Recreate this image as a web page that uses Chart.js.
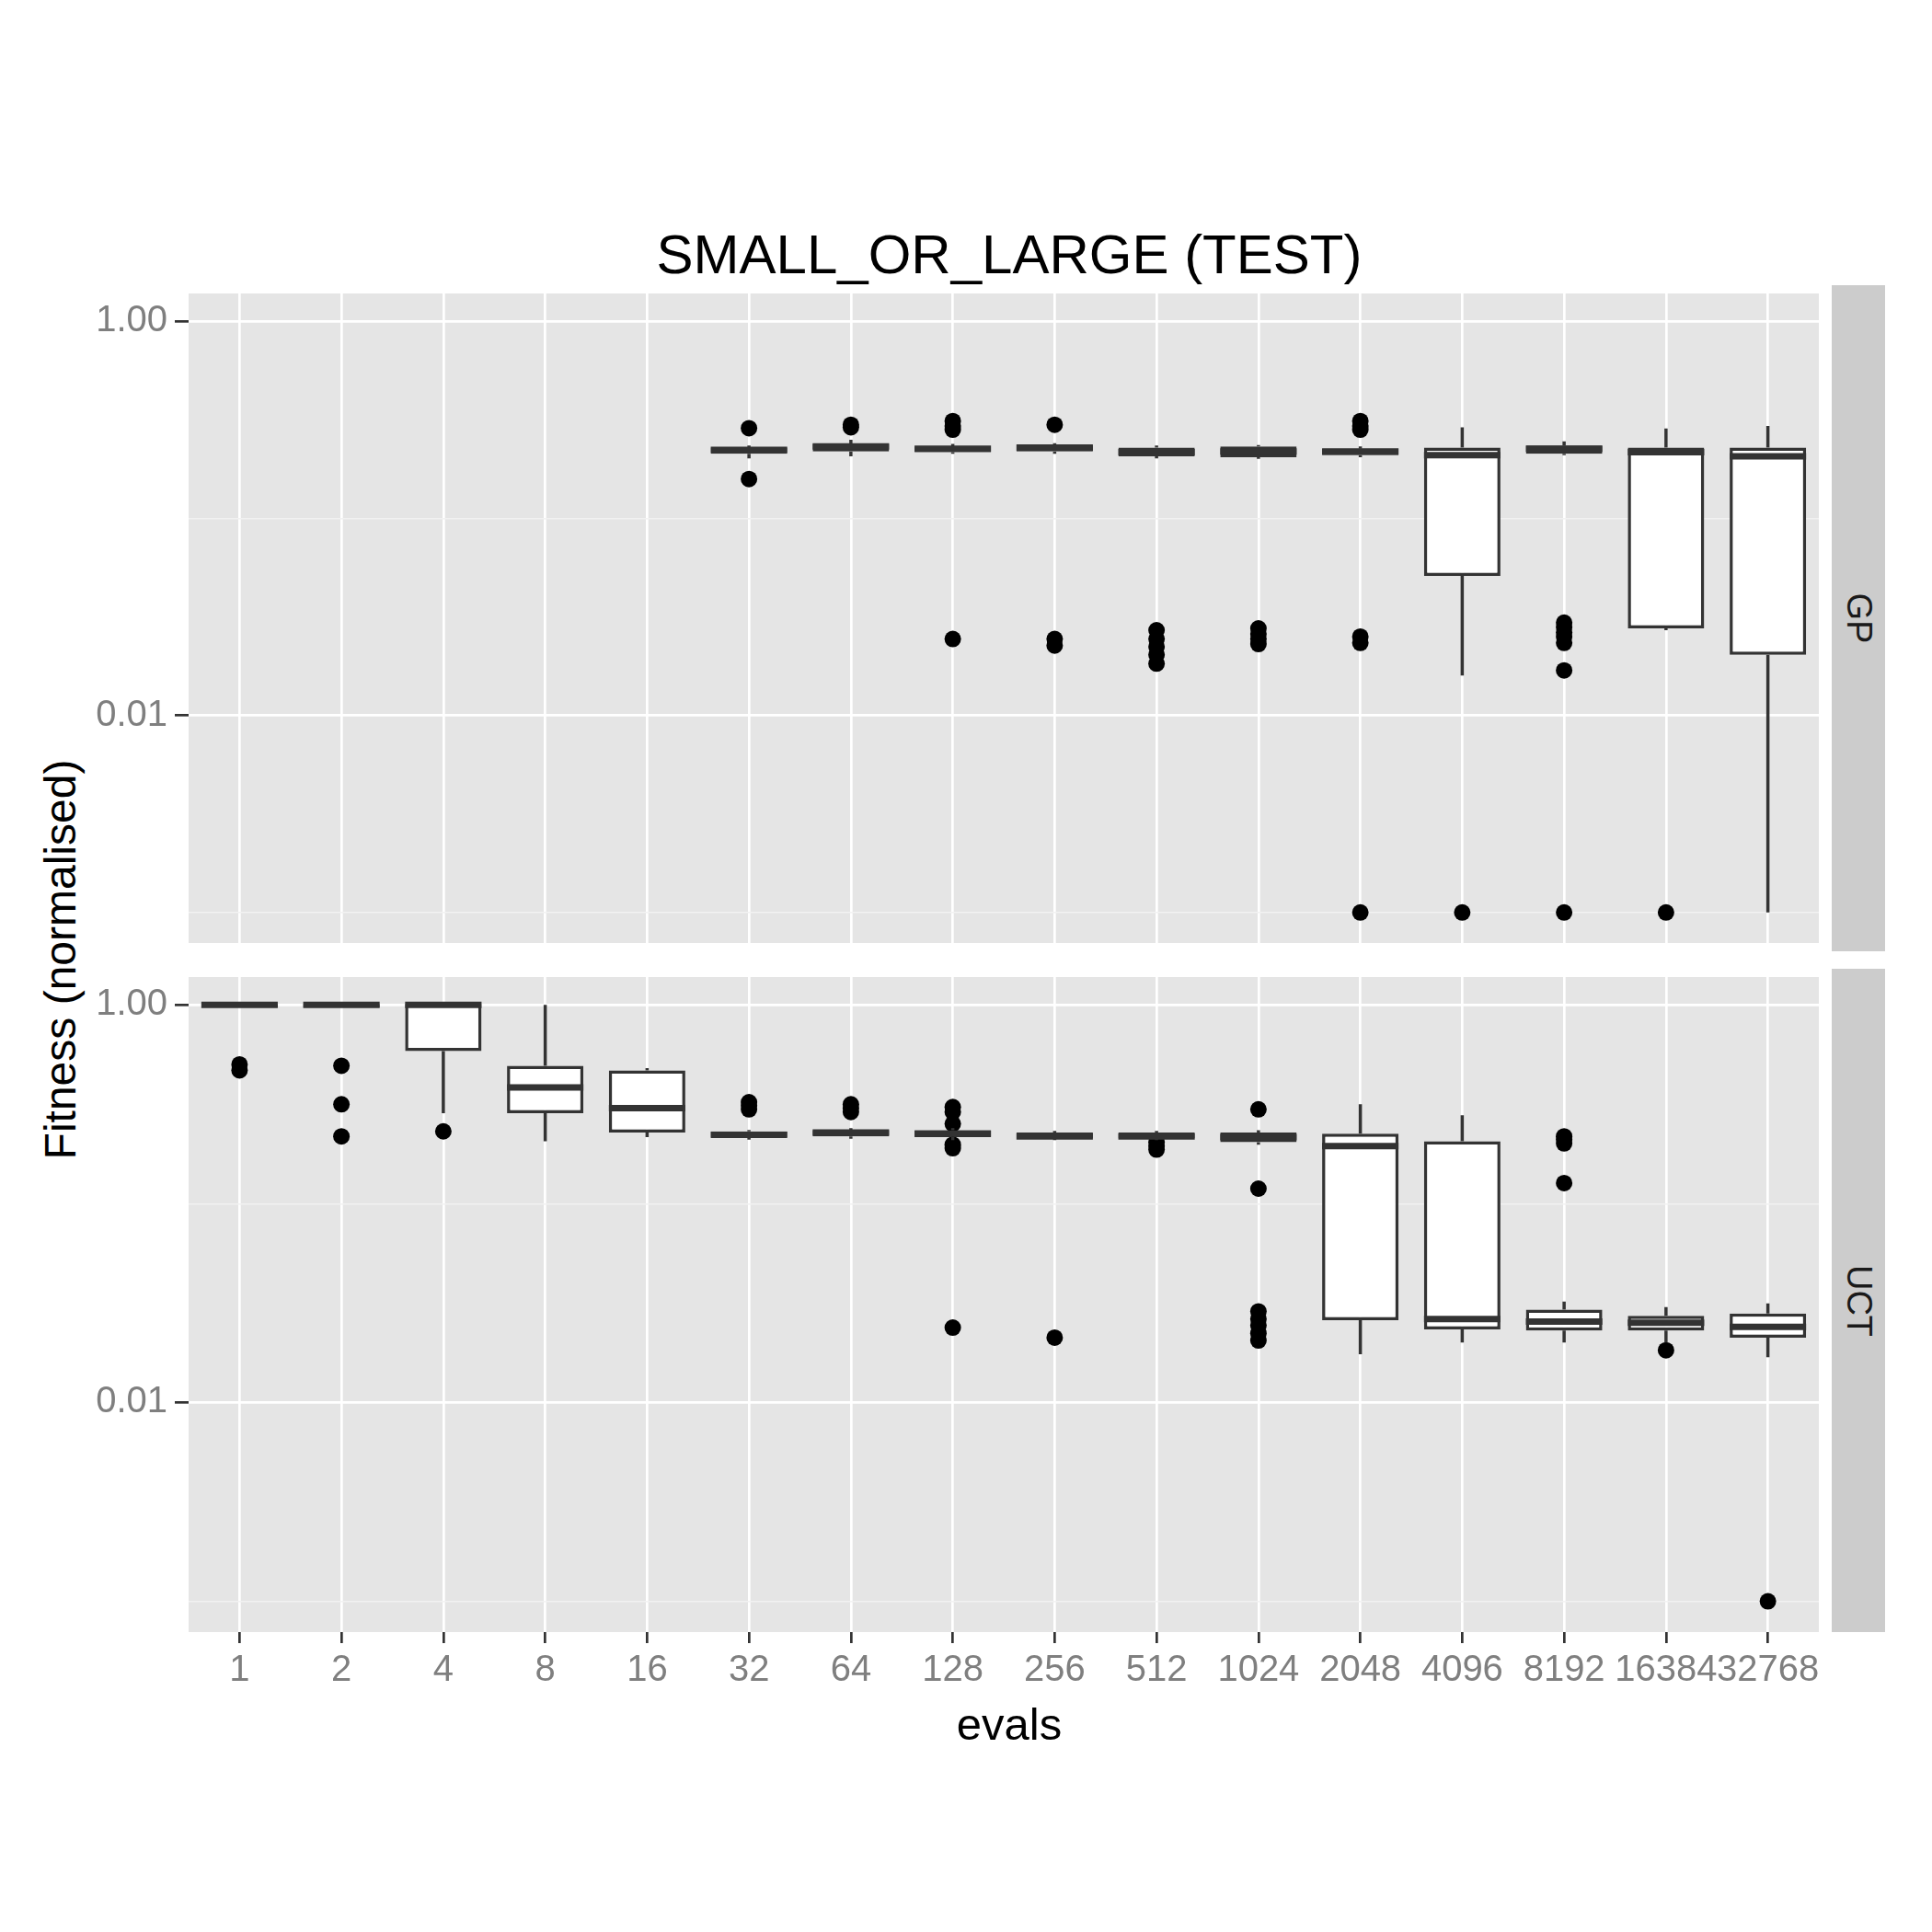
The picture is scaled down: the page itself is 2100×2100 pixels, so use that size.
<!DOCTYPE html>
<html>
<head>
<meta charset="utf-8">
<script src="https://cdn.jsdelivr.net/npm/chart.js@4"></script>
<style>
  body { margin: 0; background: #fff; font-family: "Liberation Sans", Arial, sans-serif; }
  #wrap { position: relative; width: 2100px; height: 2100px; }
  canvas { position: absolute; left: 0; }
  .txt { position: absolute; white-space: nowrap; color: #000; }
  .strip { position: absolute; left: 1991px; width: 58px; background: #ccc; }
  .strip span { position: absolute; left: 50%; top: 50%; transform: translate(-50%, -50%) rotate(90deg); font-size: 38px; color: #1a1a1a; }
</style>
</head>
<body>
<div id="wrap">
  <div class="txt" style="left:1097px;top:276px;transform:translate(-50%,-50%);font-size:60px;">SMALL_OR_LARGE (TEST)</div>
  <div class="txt" style="left:65px;top:1043px;transform:translate(-50%,-50%) rotate(-90deg);font-size:48px;">Fitness (normalised)</div>
  <div class="txt" style="left:1097px;top:1874px;transform:translate(-50%,-50%);font-size:49px;">evals</div>
  <div class="strip" style="top:310px;height:724px;"><span>GP</span></div>
  <div class="strip" style="top:1053px;height:721px;"><span>UCT</span></div>
  <canvas id="gp" width="2100" height="724" style="top:310px;width:2100px;height:724px;"></canvas>
  <canvas id="uct" width="2100" height="801" style="top:1053px;width:2100px;height:801px;"></canvas>
</div>
<script>
const evals = ['1','2','4','8','16','32','64','128','256','512','1024','2048','4096','8192','16384','32768'];
const yTicks = [0.001, 0.01, 0.1, 1];
const yLabels = { 1: '1.00', 0.01: '0.01' };

// GP: [whiskerLow, q1, median, q3, whiskerHigh]
const gpStats = [
  null, null, null, null, null,
  [0.201, 0.212, 0.222, 0.228, 0.234],
  [0.206, 0.218, 0.231, 0.238, 0.250],
  [0.212, 0.216, 0.225, 0.231, 0.238],
  [0.212, 0.218, 0.228, 0.234, 0.240],
  [0.201, 0.206, 0.216, 0.228, 0.234],
  [0.200, 0.204, 0.218, 0.231, 0.235],
  [0.204, 0.209, 0.218, 0.225, 0.231],
  [0.0159, 0.051, 0.209, 0.228, 0.289],
  [0.209, 0.212, 0.225, 0.234, 0.245],
  [0.027, 0.0276, 0.216, 0.228, 0.285],
  [0.001, 0.0203, 0.206, 0.228, 0.294]
];
const gpOutliers = [
  [], [], [], [], [],
  [0.286, 0.158],
  [0.298, 0.289],
  [0.311, 0.294, 0.281, 0.0244],
  [0.298, 0.0244, 0.0226],
  [0.027, 0.0244, 0.0223, 0.0203, 0.0183],
  [0.0276, 0.0259, 0.0244, 0.0230],
  [0.311, 0.294, 0.281, 0.0251, 0.0233, 0.001],
  [0.001],
  [0.0295, 0.0280, 0.0263, 0.0251, 0.0233, 0.0169, 0.001],
  [0.001],
  []
];

const uctStats = [
  [0.972, 0.972, 1.0, 1.01, 1.01],
  [0.972, 0.972, 1.0, 1.01, 1.01],
  [0.285, 0.586, 1.0, 1.01, 1.01],
  [0.206, 0.285, 0.384, 0.494, 1.0],
  [0.216, 0.228, 0.302, 0.468, 0.48],
  [0.210, 0.216, 0.222, 0.231, 0.235],
  [0.212, 0.218, 0.228, 0.234, 0.240],
  [0.209, 0.216, 0.225, 0.234, 0.240],
  [0.209, 0.213, 0.218, 0.228, 0.232],
  [0.209, 0.213, 0.218, 0.228, 0.232],
  [0.198, 0.204, 0.216, 0.228, 0.234],
  [0.0175, 0.0259, 0.195, 0.225, 0.316],
  [0.0200, 0.0233, 0.0263, 0.206, 0.278],
  [0.0200, 0.0230, 0.0255, 0.0293, 0.0322],
  [0.0200, 0.0230, 0.0252, 0.0273, 0.0302],
  [0.0169, 0.0212, 0.0240, 0.0280, 0.0315]
];
const uctOutliers = [
  [0.502, 0.468],
  [0.494, 0.316, 0.218],
  [0.231],
  [],
  [],
  [0.324, 0.311, 0.298],
  [0.316, 0.302, 0.289],
  [0.306, 0.289, 0.252, 0.198, 0.190, 0.0238],
  [0.0212],
  [0.204, 0.195, 0.187],
  [0.298, 0.119, 0.0287, 0.0263, 0.0244, 0.0223, 0.0205],
  [],
  [],
  [0.218, 0.210, 0.201, 0.127],
  [0.0183],
  [0.001]
];

const boxPlugin = {
  id: 'boxes',
  beforeDraw(chart) {
    const a = chart.chartArea, c = chart.ctx;
    c.save();
    c.fillStyle = '#e5e5e5';
    c.fillRect(a.left, a.top, a.right - a.left, a.bottom - a.top);
    c.restore();
  },
  afterDatasetsDraw(chart) {
    const stats = chart.options.plugins.boxes.stats;
    const xs = chart.scales.x, ys = chart.scales.y, c = chart.ctx;
    const half = xs.width / evals.length * 0.375;
    c.save();
    c.strokeStyle = '#333';
    stats.forEach((s, i) => {
      if (!s) return;
      const x = xs.getPixelForValue(i);
      const p = s.map(v => ys.getPixelForValue(v));
      c.lineWidth = 3.5;
      c.beginPath();
      c.moveTo(x, p[0]); c.lineTo(x, p[1]);
      c.moveTo(x, p[3]); c.lineTo(x, p[4]);
      c.stroke();
      c.lineWidth = 7;
      c.beginPath();
      c.moveTo(x - half, p[2]); c.lineTo(x + half, p[2]);
      c.stroke();
    });
    c.restore();
  }
};

function makeChart(id, stats, outliers, showX) {
  const pts = [];
  outliers.forEach((list, i) => list.forEach(v => pts.push({ x: evals[i], y: v })));
  return new Chart(document.getElementById(id), {
    data: {
      labels: evals,
      datasets: [
        {
          type: 'bar',
          data: stats.map(s => s ? [s[1], s[3]] : null),
          backgroundColor: '#ffffff',
          borderColor: '#333',
          borderWidth: 3.5,
          borderSkipped: false,
          barPercentage: 0.75,
          categoryPercentage: 1,
          order: 2
        },
        {
          type: 'line',
          data: pts,
          showLine: false,
          pointRadius: 9,
          pointBackgroundColor: '#000',
          pointBorderWidth: 0,
          order: 1
        }
      ]
    },
    options: {
      responsive: false,
      animation: false,
      devicePixelRatio: 1,
      layout: { padding: { left: 0, right: 123, top: 0, bottom: 0 } },
      plugins: { legend: { display: false }, tooltip: { enabled: false }, boxes: { stats } },
      scales: {
        x: {
          type: 'category',
          offset: true,
          border: { display: false },
          grid: { color: '#fff', lineWidth: 2.7, offset: false, tickColor: '#333', tickLength: showX ? 12 : 0, drawTicks: showX },
          ticks: { display: showX, color: '#7f7f7f', font: { size: 40, family: 'Liberation Sans' }, padding: 6, maxRotation: 0, autoSkip: false },
          afterFit(s) { s.height = showX ? 80 : 0; s.paddingLeft = 0; s.paddingRight = 0; }
        },
        y: {
          type: 'logarithmic',
          min: 0.0007,
          max: 1.38,
          border: { display: false },
          afterBuildTicks(s) { s.ticks = yTicks.map(v => ({ value: v })); },
          afterFit(s) { s.width = 205; s.paddingTop = 0; s.paddingBottom = 0; },
          grid: {
            color: ctx => (ctx.tick && yLabels[ctx.tick.value]) ? '#fff' : '#f2f2f2',
            lineWidth: ctx => (ctx.tick && yLabels[ctx.tick.value]) ? 2.7 : 1.5,
            tickColor: ctx => (ctx.tick && yLabels[ctx.tick.value]) ? '#333' : 'rgba(0,0,0,0)',
            tickLength: 15
          },
          ticks: {
            color: '#7f7f7f',
            font: { size: 40, family: 'Liberation Sans' },
            padding: 8,
            callback: v => yLabels[v] || ''
          }
        }
      }
    },
    plugins: [boxPlugin]
  });
}

makeChart('gp', gpStats, gpOutliers, false);
makeChart('uct', uctStats, uctOutliers, true);
</script>
</body>
</html>
